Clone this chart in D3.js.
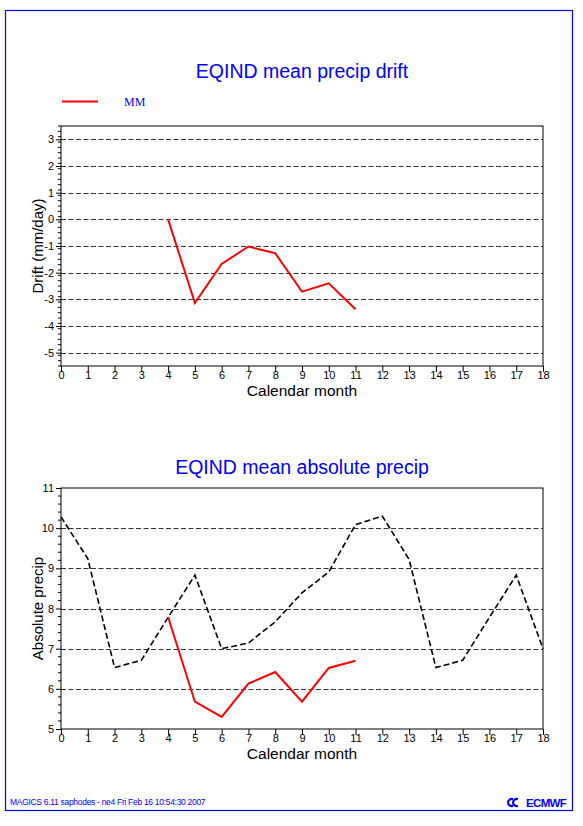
<!DOCTYPE html>
<html>
<head>
<meta charset="utf-8">
<script src="https://cdn.jsdelivr.net/npm/d3@7"></script>
<style>
  html, body { margin: 0; padding: 0; background: #fff; }
  svg { display: block; }
</style>
</head>
<body>
<svg id="chart" width="583" height="826"></svg>
<script>
// ---- Data ----
const months = d3.range(0, 19);
const driftMonths = [4, 5, 6, 7, 8, 9, 10, 11];
const driftValues = [0, -3.14, -1.67, -1.02, -1.27, -2.71, -2.4, -3.37];
const climMonths = months;
const climValues = [10.28, 9.24, 6.53, 6.71, 7.78, 8.83, 7.0, 7.14, 7.67, 8.39, 8.91, 10.09, 10.3, 9.22, 6.53, 6.71, 7.78, 8.83, 7.0];
const modelMonths = [4, 5, 6, 7, 8, 9, 10, 11];
const modelValues = [7.79, 5.68, 5.3, 6.13, 6.42, 5.68, 6.52, 6.7];
const driftTicks = [-5, -4, -3, -2, -1, 0, 1, 2, 3];
const absTicks = [5, 6, 7, 8, 9, 10, 11];
const legendLabel = "MM";
const titleTop = "EQIND mean precip drift";
const titleBottom = "EQIND mean absolute precip";
const footerText = "MAGICS 6.11 saphodes - ne4 Fri Feb 16 10:54:30 2007";

const svg = d3.select("#chart");
const font = "'Liberation Sans', Arial, Helvetica, sans-serif";

// Outer frame
svg.append("rect").attr("x", 5.5).attr("y", 10.5).attr("width", 567).attr("height", 800)
  .attr("fill", "none").attr("stroke", "#0000ff").attr("stroke-width", 1.2);

function panel(opts) {
  const x = d3.scaleLinear().domain([0, 18]).range([61, 543]);
  const y = d3.scaleLinear().domain(opts.domain).range([opts.bottom, opts.top]);
  const g = svg.append("g");

  // grid lines
  g.selectAll("line.grid").data(opts.gridTicks).join("line")
    .attr("x1", x(0)).attr("x2", x(18))
    .attr("y1", d => Math.round(y(d)) + 0.5).attr("y2", d => Math.round(y(d)) + 0.5)
    .attr("stroke", "#333").attr("stroke-width", 1).attr("stroke-dasharray", "5,2.5");

  // frame
  g.append("rect").attr("x", x(0)).attr("y", y(opts.domain[1]))
    .attr("width", x(18) - x(0)).attr("height", y(opts.domain[0]) - y(opts.domain[1]))
    .attr("fill", "none").attr("stroke", "#000").attr("stroke-width", 1);

  // y minor ticks
  const minor = d3.range(opts.domain[0], opts.domain[1] + 1e-9, 0.2).filter(v => Math.abs(v - Math.round(v)) > 1e-6);
  g.selectAll("line.minor").data(minor).join("line")
    .attr("x1", x(0) - 3).attr("x2", x(0))
    .attr("y1", d => y(d)).attr("y2", d => y(d))
    .attr("stroke", "#000").attr("stroke-width", 1);

  // y axis major ticks + labels
  const yAxis = d3.axisLeft(y).tickValues(opts.ticks).tickSize(5).tickPadding(2).tickFormat(d => String(d));
  const ya = g.append("g").attr("transform", `translate(${x(0)},0)`).call(yAxis);
  ya.select(".domain").remove();
  ya.selectAll("text").attr("font-family", font).attr("font-size", 11).attr("fill", "#000");

  // x axis
  const xAxis = d3.axisBottom(x).tickValues(months).tickSize(6).tickPadding(0).tickFormat(d => String(d));
  const xa = g.append("g").attr("transform", `translate(0,${opts.bottom})`).call(xAxis);
  xa.select(".domain").remove();
  xa.selectAll("text").attr("font-family", font).attr("font-size", 11).attr("fill", "#000").attr("dy", "0.71em").attr("y", 5);

  // axis titles
  g.append("text").attr("x", (x(0) + x(18)) / 2).attr("y", opts.bottom + 30)
    .attr("text-anchor", "middle").attr("font-family", font).attr("font-size", 15.5).attr("fill", "#000")
    .text("Calendar month");
  g.append("text")
    .attr("transform", `translate(${opts.ylabelX},${(opts.top + opts.bottom) / 2}) rotate(-90)`)
    .attr("text-anchor", "middle").attr("font-family", font).attr("font-size", 15).attr("fill", "#000")
    .text(opts.ylabel);

  // title
  svg.append("text").attr("x", 302).attr("y", opts.titleY).attr("text-anchor", "middle")
    .attr("font-family", font).attr("font-size", opts.titleSize).attr("fill", "#0000ff").text(opts.title);

  return { x, y, g };
}

// Top panel
const p1 = panel({ domain: [-5.5, 3.5], top: 126, bottom: 366, ticks: driftTicks, gridTicks: driftTicks,
  ylabel: "Drift (mm/day)", ylabelX: 43, title: titleTop, titleY: 78, titleSize: 19.5 });
const line1 = d3.line().x((d, i) => p1.x(driftMonths[i])).y(d => p1.y(d));
p1.g.append("path").datum(driftValues).attr("d", line1)
  .attr("fill", "none").attr("stroke", "#ff0000").attr("stroke-width", 2).attr("stroke-linejoin", "miter");

// Legend
svg.append("line").attr("x1", 62).attr("x2", 98).attr("y1", 101.5).attr("y2", 101.5)
  .attr("stroke", "#ff0000").attr("stroke-width", 2);
svg.append("text").attr("x", 124).attr("y", 105.5).attr("font-family", "'Liberation Serif', 'Times New Roman', serif")
  .attr("font-size", 12).attr("fill", "#0000ff").text(legendLabel);

// Bottom panel
const p2 = panel({ domain: [5, 11], top: 488, bottom: 729, ticks: absTicks, gridTicks: [6, 7, 8, 9, 10],
  ylabel: "Absolute precip", ylabelX: 43, title: titleBottom, titleY: 474, titleSize: 19.5 });
const line2a = d3.line().x((d, i) => p2.x(climMonths[i])).y(d => p2.y(d));
p2.g.append("path").datum(climValues).attr("d", line2a)
  .attr("fill", "none").attr("stroke", "#000").attr("stroke-width", 1.6).attr("stroke-dasharray", "6,3");
const line2b = d3.line().x((d, i) => p2.x(modelMonths[i])).y(d => p2.y(d));
p2.g.append("path").datum(modelValues).attr("d", line2b)
  .attr("fill", "none").attr("stroke", "#ff0000").attr("stroke-width", 2);

// Footer
svg.append("text").attr("x", 10).attr("y", 805).attr("font-family", font).attr("font-size", 8.5)
  .attr("letter-spacing", "-0.3").attr("fill", "#0000ff").text(footerText);
svg.append("text").attr("x", 566).attr("y", 806.5).attr("text-anchor", "end")
  .attr("font-family", font).attr("font-size", 11.5).attr("font-weight", "bold").attr("letter-spacing", "-0.7")
  .attr("fill", "#0000ff").text("ECMWF");
svg.append("path").attr("d", "M518,799 A4,3.6 0 1 0 518,806 M513,799 A4,3.6 0 1 0 513,806")
  .attr("fill", "none").attr("stroke", "#0000ff").attr("stroke-width", 2.2);
</script>
</body>
</html>
